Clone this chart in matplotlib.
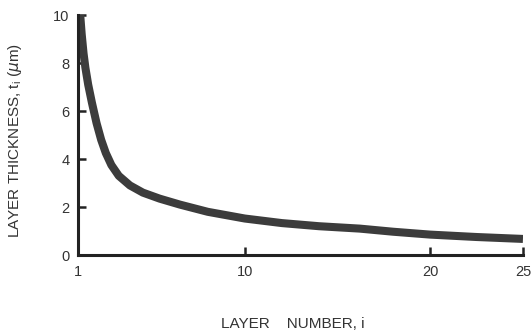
import matplotlib
matplotlib.use("Agg")
import matplotlib.pyplot as plt

# layer number vs thickness
layer = [1.12, 1.2, 1.3, 1.4, 1.55, 1.75, 2.0, 2.25, 2.5, 2.8, 3.2, 3.8, 4.5,
         5.4, 6.5, 8.0, 10.0, 12.0, 14.0, 16.2, 18.0, 20.0, 22.5, 25.0]
thickness = [10.0, 9.2, 8.4, 7.8, 7.1, 6.35, 5.5, 4.8, 4.25, 3.75, 3.3, 2.9, 2.6,
             2.35, 2.1, 1.8, 1.52, 1.33, 1.2, 1.1, 0.97, 0.85, 0.75, 0.67]

xticks = [1, 10, 20, 25]
yticks = [0, 2, 4, 6, 8, 10]

plt.rcParams["font.family"] = ["Liberation Sans", "DejaVu Sans"]
plt.rcParams["mathtext.fontset"] = "dejavusans"

fig = plt.figure(figsize=(5.32, 3.34), dpi=100)
ax = fig.add_axes([0.1466, 0.2365, 0.8364, 0.7185])

ax.plot(layer, thickness, color="#3c3c3c", lw=5.8, solid_capstyle="butt",
        solid_joinstyle="round")

ax.set_xlim(1, 25)
ax.set_ylim(0, 10)
ax.set_xticks(xticks)
ax.set_yticks(yticks)
ax.tick_params(direction="in", length=6, width=1.8, color="#222222",
               labelsize=10.5, labelcolor="#333333")
ax.tick_params(axis="y", pad=6)
ax.tick_params(axis="x", pad=7)

for s in ["top", "right"]:
    ax.spines[s].set_visible(False)
for s in ["left", "bottom"]:
    ax.spines[s].set_linewidth(2.2)
    ax.spines[s].set_color("#222222")

ax.set_xlabel("LAYER    NUMBER, i", fontsize=11, color="#333333", va="center")
ax.xaxis.set_label_coords(0.483, -0.2875)
ax.set_ylabel(r"LAYER THICKNESS, t$_\mathregular{i}$ ($\mu$m)", fontsize=11,
              color="#333333", va="center")
ax.yaxis.set_label_coords(-0.1416, 0.479)

fig.savefig("out.png", dpi=100)
